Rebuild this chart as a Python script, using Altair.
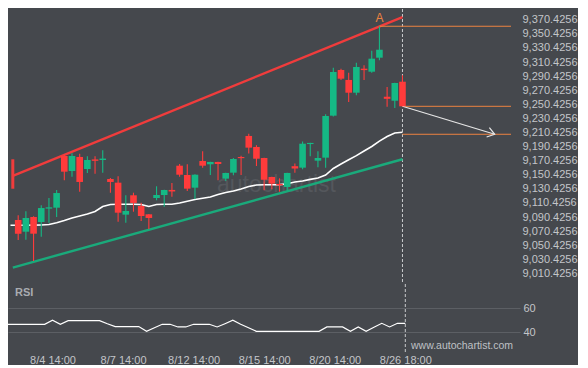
import altair as alt
import pandas as pd

# ---------------- data ----------------
candle_idx = list(range(51))
opens = [9086.2, 9069.6, 9090.5, 9083.4, 9102.4, 9103.7, 9177.1, 9155.8, 9175.7, 9158.6,
         9172.2, 9171.4, 9144.4, 9139.2, 9093.8, 9121.3, 9106.1, 9094.3, 9117.4, 9121.7,
         9128.9, 9163.3, 9150.1, 9132.1, 9170.0, 9165.3, 9168.6, 9144.9, 9153.4, 9175.6,
         9205.5, 9189.9, 9174.2, 9147.3, 9137.4, 9133.1, 9162.6, 9160.5, 9194.0, 9170.4,
         9174.7, 9234.3, 9299.1, 9285.0, 9266.9, 9301.0, 9296.7, 9316.6, 9261.2, 9255.5,
         9282.5]
highs = [9092.9, 9098.6, 9091.5, 9107.1, 9117.4, 9128.8, 9179.5, 9180.9, 9180.4, 9176.7,
         9176.7, 9185.2, 9145.9, 9148.3, 9121.3, 9125.0, 9110.8, 9094.8, 9134.1, 9129.3,
         9138.8, 9165.7, 9165.3, 9151.0, 9183.8, 9169.0, 9169.0, 9153.4, 9174.3, 9177.5,
         9208.7, 9192.4, 9174.6, 9147.7, 9145.4, 9153.4, 9166.4, 9197.6, 9196.0, 9183.8,
         9236.2, 9302.4, 9301.0, 9295.3, 9309.5, 9305.8, 9326.5, 9360.8, 9275.0, 9281.0,
         9291.6]
lows = [9057.8, 9058.3, 9028.0, 9062.5, 9082.4, 9090.5, 9142.6, 9147.7, 9126.4, 9153.0,
        9152.0, 9153.4, 9125.0, 9083.8, 9082.4, 9098.0, 9084.8, 9073.5, 9114.2, 9105.1,
        9119.3, 9147.7, 9127.4, 9116.0, 9160.5, 9150.1, 9142.6, 9141.6, 9149.7, 9150.1,
        9180.6, 9162.9, 9128.4, 9129.8, 9126.4, 9128.1, 9153.4, 9158.2, 9176.7, 9161.0,
        9160.5, 9233.0, 9285.0, 9253.7, 9263.2, 9285.0, 9295.3, 9312.9, 9247.0, 9245.2,
        9247.6]
closes = [9066.8, 9089.1, 9066.8, 9103.2, 9104.2, 9124.5, 9154.8, 9177.1, 9140.2, 9171.4,
          9170.2, 9173.4, 9140.2, 9096.6, 9099.0, 9110.4, 9091.9, 9089.1, 9121.7, 9128.8,
          9126.7, 9150.5, 9130.7, 9150.5, 9163.3, 9168.6, 9165.7, 9153.0, 9172.8, 9174.0,
          9188.9, 9173.2, 9143.3, 9137.8, 9135.4, 9153.0, 9159.3, 9194.5, 9195.6, 9174.2,
          9233.8, 9296.3, 9286.8, 9266.9, 9303.4, 9299.0, 9315.2, 9327.9, 9258.2, 9280.7,
          9247.6]

line_idx = list(range(-1, 51))
ma_vals = [9078.7, 9078.7, 9078.7, 9078.9, 9079.2, 9079.8, 9082.3, 9085.5, 9089.1, 9091.9,
           9094.7, 9098.3, 9105.4, 9108.2, 9108.5, 9108.5, 9108.5, 9108.3, 9105.4, 9108.2,
           9108.5, 9108.5, 9110.4, 9112.8, 9115.3, 9117.0, 9118.9, 9122.4, 9125.2, 9127.4,
           9130.2, 9133.8, 9135.9, 9136.3, 9136.3, 9136.4, 9137.6, 9140.1, 9141.6, 9143.9,
           9145.8, 9150.1, 9159.3, 9165.7, 9171.7, 9177.6, 9184.2, 9190.5, 9198.1, 9204.7,
           9209.7, 9210.8]
rsi_vals = [46.6, 46.6, 46.6, 46.6, 46.6, 46.6, 49.9, 46.6, 49.6, 49.6,
            49.6, 49.6, 49.6, 47.0, 44.7, 44.7, 44.7, 44.7, 40.8, 43.8,
            46.6, 46.6, 44.4, 44.4, 46.6, 46.6, 46.6, 44.4, 47.1, 49.9,
            46.6, 43.8, 40.8, 40.8, 40.8, 40.8, 40.8, 40.8, 40.8, 40.8,
            40.8, 44.4, 44.4, 44.4, 40.8, 44.4, 40.8, 44.1, 47.4, 44.4,
            47.4, 47.4]

# channel (upper resistance / lower support)
chan_x = [-0.7, 50]
upper_y = [9149.0, 9374.3]
lower_y = [9018.7, 9172.4]
start_tick = [9130.6, 9172.4]

# key levels (pattern high "A", last close, forecast target)
level_start = [47, 50, 50]
level_val = [9361.2, 9247.6, 9207.9]
point_label = ["A"]
point_idx = [47]
point_val = [9360.8]

# forecast arrow
arrow_x = [50, 62]
arrow_y = [9247.6, 9207.9]
now_idx = [50]

x_tick_idx = [5, 14, 23, 32, 41, 50]
x_tick_lbl = ["8/4 14:00", "8/7 14:00", "8/12 14:00", "8/15 14:00", "8/20 14:00", "8/26 18:00"]
price_ticks = [9010.4256, 9030.4256, 9050.4256, 9070.4256, 9090.4256, 9110.4256, 9130.4256,
               9150.4256, 9170.4256, 9190.4256, 9210.4256, 9230.4256, 9250.4256, 9270.4256,
               9290.4256, 9310.4256, 9330.4256, 9350.4256, 9370.4256]
rsi_ticks = [40, 60]
watermark = "autochartist"
site = "www.autochartist.com"
rsi_title = "RSI"

# ---------------- style ----------------
BG = "#45484d"
RED = "#ff3b3b"
GREEN = "#15b985"
CH_RED = "#f03c3c"
CH_GREEN = "#1aaa7b"
ORANGE = "#ec8240"
LABEL = "#c3c5c9"
FONT = "Liberation Sans"

PX = 7.84
X0 = -0.676
MAIN_W, MAIN_H = 508, 274
RSI_W, RSI_H = 512, 68

xs_main = alt.Scale(domain=[X0, X0 + MAIN_W / PX], nice=False, zero=False)
xs_rsi = alt.Scale(domain=[X0, X0 + RSI_W / PX], nice=False, zero=False)
ys_main = alt.Scale(domain=[8996.8, 9385.7], nice=False, zero=False)
ys_rsi = alt.Scale(domain=[23.8, 79.75], nice=False, zero=False)

candles = pd.DataFrame({"i": candle_idx, "open": opens, "high": highs, "low": lows, "close": closes})
candles["dir"] = ["up" if c >= o else "down" for o, c in zip(opens, closes)]
lines = pd.DataFrame({"i": line_idx, "ma": ma_vals, "rsi": rsi_vals})
chan = pd.DataFrame({"i": chan_x, "upper": upper_y, "lower": lower_y})
tick = pd.DataFrame({"i": [chan_x[0]], "y": [start_tick[0]], "y2": [start_tick[1]]})
levels = pd.DataFrame({"i": level_start, "end": [X0 + MAIN_W / PX] * len(level_start), "v": level_val})
pts = pd.DataFrame({"i": point_idx, "v": point_val, "t": point_label})
arrow = pd.DataFrame({"i": arrow_x, "v": arrow_y})
head = arrow.tail(1)
nowdf = pd.DataFrame({"i": now_idx})

color_enc = alt.Color("dir:N", scale=alt.Scale(domain=["up", "down"], range=[GREEN, RED]), legend=None)

y_axis = alt.Axis(orient="right", values=price_ticks, format=",.4f", labelColor=LABEL,
                  labelFontSize=11, labelFont=FONT, labelPadding=6, ticks=False, domain=False,
                  grid=False, title=None, labelBaseline="middle")

X = lambda f: alt.X(f, type="quantitative", scale=xs_main, axis=None)
Y = lambda f: alt.Y(f, type="quantitative", scale=ys_main, axis=y_axis)

wicks = alt.Chart(candles).mark_rule(strokeWidth=1.1).encode(
    x=X("i"), y=Y("low"), y2="high:Q", color=color_enc)
bodies = alt.Chart(candles).mark_bar(size=6.6).encode(
    x=X("i"), y=Y("open"), y2="close:Q", color=color_enc)
ma_line = alt.Chart(lines).mark_line(color="white", strokeWidth=1.6, clip=True).encode(
    x=X("i"), y=Y("ma"))
up_line = alt.Chart(chan).mark_line(color=CH_RED, strokeWidth=2.4, clip=True).encode(
    x=X("i"), y=Y("upper"))
lo_line = alt.Chart(chan).mark_line(color=CH_GREEN, strokeWidth=2.4, clip=True).encode(
    x=X("i"), y=Y("lower"))
tick_mark = alt.Chart(tick).mark_rule(color=CH_RED, strokeWidth=3, clip=True).encode(
    x=X("i"), y=Y("y"), y2="y2:Q")
lvl = alt.Chart(levels).mark_rule(color=ORANGE, strokeWidth=1).encode(
    x=X("i"), x2="end:Q", y=Y("v"))
arr = alt.Chart(arrow).mark_line(color="#e6e6e6", strokeWidth=1.2).encode(x=X("i"), y=Y("v"))
arr_head = alt.Chart(head).mark_point(shape="M -1 -0.7 L 0 0 L -1 0.7", filled=False, size=196,
                                      angle=16.5, color="#e6e6e6", strokeWidth=1.2, opacity=1).encode(
    x=X("i"), y=Y("v"))
now_rule = alt.Chart(nowdf).mark_rule(color="#c9cbce", strokeDash=[3, 2], strokeWidth=1).encode(x=X("i"))
a_txt = alt.Chart(pts).mark_text(color=ORANGE, dy=-9, fontSize=12, font=FONT).encode(
    x=X("i"), y=Y("v"), text="t:N")
wm = alt.Chart(pd.DataFrame({"t": [watermark]})).mark_text(
    fontSize=23, font=FONT, color="#54575c", align="left", baseline="alphabetic").encode(
    x=alt.value(209), y=alt.value(183), text="t:N")

main = alt.layer(wm, now_rule, lo_line, up_line, tick_mark, ma_line, lvl, arr, arr_head, wicks, bodies,
                 a_txt).properties(width=MAIN_W, height=MAIN_H)

# ---------------- RSI panel ----------------
label_expr = " : ".join(f"datum.value == {v} ? '{t}'" for v, t in zip(x_tick_idx, x_tick_lbl)) + " : ''"
x_axis = alt.Axis(values=x_tick_idx, labelExpr=label_expr, labelColor=LABEL, labelFontSize=11,
                  labelFont=FONT, labelPadding=2, ticks=False, domain=False, grid=False, title=None)
rsi_axis = alt.Axis(orient="right", values=rsi_ticks, labelColor=LABEL, labelFontSize=11,
                    labelFont=FONT, labelPadding=3, ticks=False, domain=False, grid=True,
                    gridColor="#5c5f64", gridWidth=1, title=None)

rsi_now = alt.Chart(nowdf).mark_rule(color="#c9cbce", strokeDash=[3, 2], strokeWidth=1).encode(
    x=alt.X("i:Q", scale=xs_rsi, axis=x_axis))
rsi_line = alt.Chart(lines).mark_line(color="white", strokeWidth=1.2, clip=True).encode(
    x=alt.X("i:Q", scale=xs_rsi, axis=x_axis), y=alt.Y("rsi:Q", scale=ys_rsi, axis=rsi_axis))
rsi_lbl = alt.Chart(pd.DataFrame({"t": [rsi_title]})).mark_text(
    fontSize=11, font=FONT, fontWeight="bold", color="#a9acb1", align="left", baseline="middle").encode(
    x=alt.value(7), y=alt.value(9), text="t:N")
site_lbl = alt.Chart(pd.DataFrame({"t": [site]})).mark_text(
    fontSize=10.5, font=FONT, color="#bfc1c5", align="left", baseline="middle").encode(
    x=alt.value(403), y=alt.value(62), text="t:N")

rsi = alt.layer(rsi_now, rsi_line, rsi_lbl, site_lbl).properties(width=RSI_W, height=RSI_H)

chart = alt.vconcat(main, rsi, spacing=-3).resolve_scale(x="independent", y="independent").properties(
    padding={"left": 0, "top": 0, "right": 0, "bottom": 0}
).configure(background=BG).configure_view(stroke=None)

chart.save("out.html", embed_options={"renderer": "svg", "actions": False})
